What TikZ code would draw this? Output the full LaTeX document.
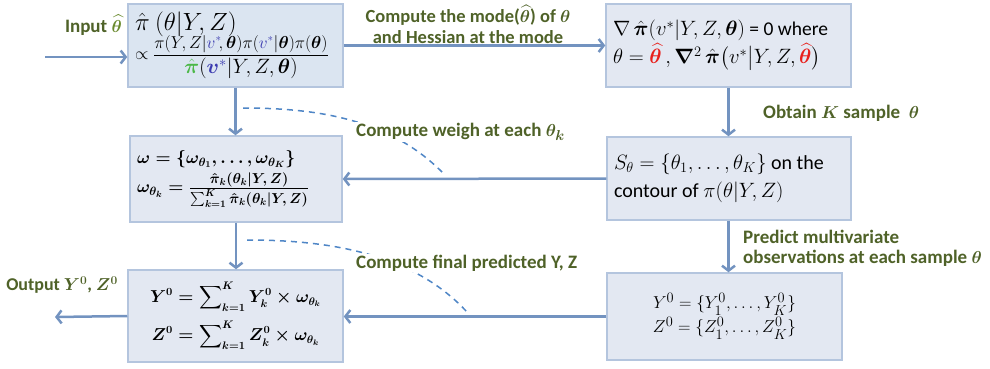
\documentclass[tikz,border=0pt]{standalone}
\usepackage{amsmath,amssymb,bm}
\usepackage[no-math]{fontspec}
\setmainfont{Carlito}
\usetikzlibrary{arrows.meta}
\definecolor{lab}{HTML}{4F6228}
\definecolor{labth}{HTML}{6A8A2E}
\definecolor{arr}{HTML}{7393C0}
\definecolor{dsh}{HTML}{4F86C6}
\definecolor{bfilla}{HTML}{DBE5F1}
\definecolor{bfillb}{HTML}{E3E8F2}
\definecolor{bdr}{HTML}{B4C5DE}
\definecolor{vb}{HTML}{3A3AB0}
\definecolor{gr}{HTML}{4CB848}
\definecolor{rd}{HTML}{E8201C}
\tikzset{
  box/.style={draw=bdr, line width=1.5pt, fill=bfillb, inner xsep=7pt, inner ysep=0pt,
    font={\fontsize{19}{23}\selectfont}},
  conn/.style={draw=arr, line width=2.5pt, -{Straight Barb[length=5pt,width=13pt]}},
  dline/.style={draw=dsh, line width=1.5pt, dash pattern=on 6pt off 5pt},
  lbl/.style={text=lab, fill=white, inner sep=1pt,
    font={\fontsize{19}{22}\selectfont\bfseries\boldmath}},
}
\begin{document}
\begin{tikzpicture}[x=1pt,y=-1pt]
\useasboundingbox (0,0) rectangle (990,368);

% dashed curves
\coordinate (c1a) at (243,108);
\coordinate (c1b) at (442,172);
\coordinate (c2a) at (247,240);
\coordinate (c2b) at (467,312);
\draw[dline] (c1a) .. controls (320,108) and (390,120) .. (c1b);
\draw[dline] (c2a) .. controls (320,240) and (410,250) .. (c2b);

% labels
\node[lbl, anchor=east] (linput) at (123,25) {Input \textcolor{labth}{$\widehat{\theta}$}};
\node[lbl, fill=none, align=flush center, font={\fontsize{18.5}{21}\selectfont\bfseries\boldmath}] (lmode) at (468,24) {Compute the mode($\widehat{\theta}$) of $\theta$\\and Hessian at the mode};
\node[lbl, anchor=west] (lobtain) at (762,113) {Obtain $K$ sample~~$\theta$};
\node[lbl, anchor=west] (lweigh) at (355,132) {Compute weigh at each $\theta_k$};
\node[lbl, anchor=west, align=flush left] (lpred) at (742,248) {Predict multivariate\\[-2pt]observations at each sample $\theta$};
\node[lbl, anchor=west] (lfinal) at (355,263) {Compute final predicted Y, Z};
\node[lbl, anchor=east, font={\fontsize{18}{22}\selectfont\bfseries\boldmath}] (lout) at (119,285) {Output $Y^0$, $Z^0$};

% boxes
\node[box, fill=bfilla, minimum width=215pt, minimum height=83pt, text width=201pt, align=flush left, font={\fontsize{18.5}{22}\selectfont}] (B1) at (235.5,45.5)
 {{\fontsize{24}{26}\selectfont$\hat{\pi}\ (\theta|Y,Z)$}\\[-3pt]
  $\displaystyle\propto\frac{\mbox{\fontsize{16}{18}\selectfont$\pi(Y,Z|\textcolor{vb}{v^*}\!,\bm\theta)\pi(\textcolor{vb}{v^*}|\bm\theta)\pi(\bm\theta)$}}{\mbox{\fontsize{20}{22}\selectfont$\textcolor{gr}{\hat{\bm\pi}}(\textcolor{vb}{\bm v^*}|Y,Z,\bm\theta)$}}$};
\node[box, minimum width=245pt, minimum height=83pt, text width=231pt, align=flush left, font={\fontsize{19.5}{24}\selectfont}] (B2) at (728.5,45.5)
 {$\nabla\,\hat{\bm\pi}(v^*|Y,Z,\bm\theta)$ = 0 where\\[2pt]
  $\theta=\textcolor{rd}{\widehat{\bm\theta}}\,,\bm\nabla^2\,\hat{\bm\pi}\bigl(v^*\big|Y,Z,\textcolor{rd}{\widehat{\bm\theta}}\bigr)$};
\node[box, minimum width=212pt, minimum height=86pt, text width=198pt, align=flush left, font={\fontsize{17.5}{21}\selectfont\boldmath}] (B3) at (236,179)
 {$\omega=\{\omega_{\theta_1},\dots,\omega_{\theta_K}\}$\\[4pt]
  $\omega_{\theta_k}=\frac{\mbox{\fontsize{14}{16}\selectfont\boldmath$\hat\pi_k(\theta_k|Y,Z)$}}{\mbox{\fontsize{14}{16}\selectfont\boldmath$\sum_{k=1}^K\hat\pi_k(\theta_k|Y,Z)$}}$};
\node[box, minimum width=244pt, minimum height=83pt, text width=230pt, align=flush left, font={\fontsize{20}{28}\selectfont}] (B4) at (729,178.5)
 {$S_\theta=\{\theta_1,\dots,\theta_K\}$ on the\\contour of $\pi(\theta|Y,Z)$};
\node[box, minimum width=215pt, minimum height=92pt, text width=201pt, align=flush center, font={\fontsize{16}{20}\selectfont\boldmath}] (B5) at (235.5,316)
 {$\displaystyle Y^0=\sum\nolimits_{k=1}^{K}Y_k^0\times\omega_{\theta_k}$\\[8pt]
  $\displaystyle Z^0=\sum\nolimits_{k=1}^{K}Z_k^0\times\omega_{\theta_k}$};
\node[box, minimum width=235pt, minimum height=87pt, text width=221pt, align=flush center, font={\fontsize{19}{24}\selectfont}] (B6) at (724.5,316.5)
 {$Y^0=\{Y_1^0,\dots,Y_K^0\}$\\$Z^0=\{Z_1^0,\dots,Z_K^0\}$};

% connectors
\coordinate (in) at (45,57);
\coordinate (out) at (55,317);
\draw[conn] (in) -- (in -| B1.west);
\draw[conn] (B1.east) -- (B2.west);
\draw[conn] (B2.south) -- (B2.south |- B4.north);
\draw[conn] (B1.south) -- (B1.south |- B3.north);
\draw[conn] (B4.west) -- (B3.east);
\draw[conn] (B3.south) -- (B3.south |- B5.north);
\draw[conn] (B4.south -| B2.south) -- (B2.south |- B6.north);
\draw[conn] (B6.west) -- (B6.west -| B5.east);
\draw[conn] (B5.west) -- (out);
\end{tikzpicture}
\end{document}
